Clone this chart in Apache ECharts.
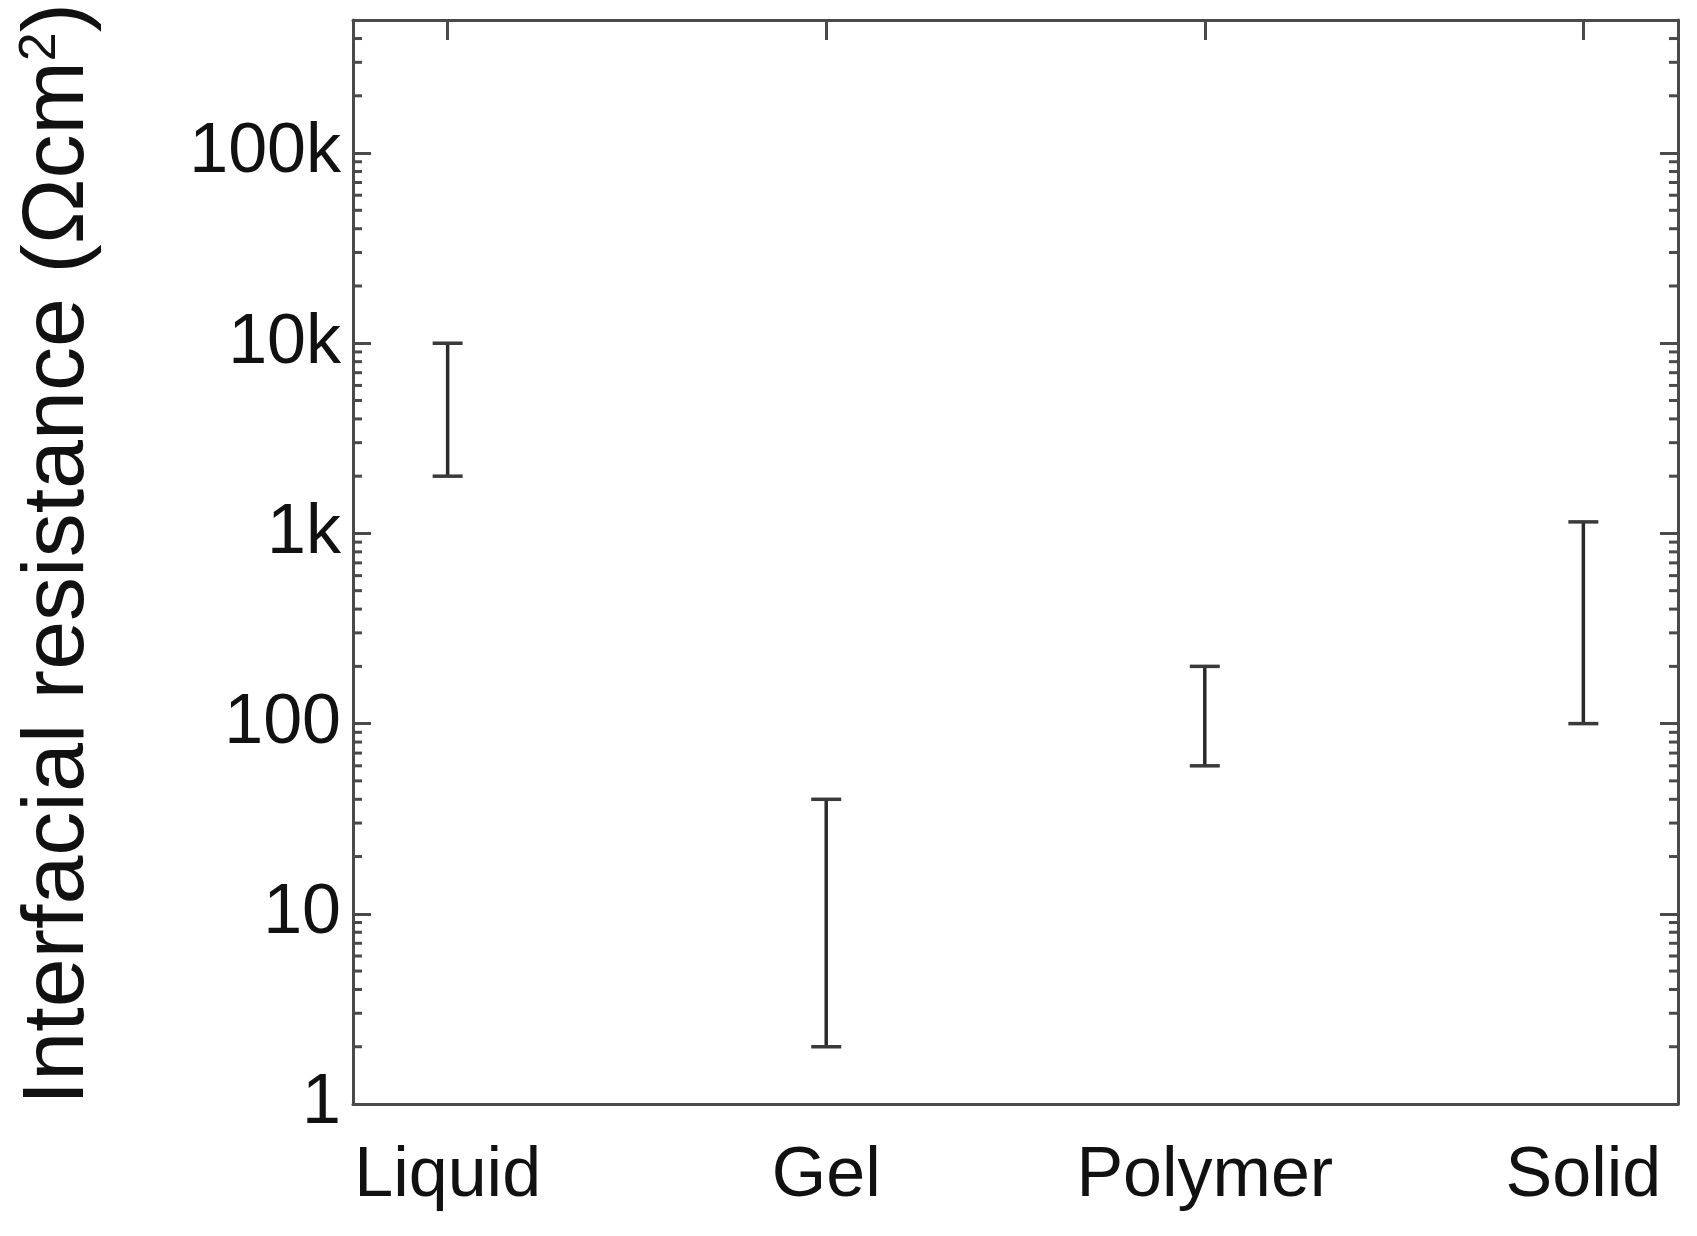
<!DOCTYPE html>
<html>
<head>
<meta charset="utf-8">
<script src="https://cdn.jsdelivr.net/npm/echarts@6/dist/echarts.min.js"></script>
<style>
html,body{margin:0;padding:0;background:#fff;}
#chart{width:1697px;height:1236px;}
</style>
</head>
<body>
<div id="chart"></div>
<script>
// ---- data ----
var categories = ['Liquid', 'Gel', 'Polymer', 'Solid'];
var lowValues  = [2000, 2, 60, 100];
var highValues = [10000, 40, 200, 1150];
var yTickValues = [1, 10, 100, 1000, 10000, 100000];
var yTickLabels = ['1', '10', '100', '1k', '10k', '100k'];
var yMinorMultipliers = [2, 3, 4, 5, 6, 7, 8, 9];
var yMin = 1, yMax = 500000;

var xPositions = categories.map(function (c, i) { return i + 1; });
var errData = categories.map(function (c, i) { return [xPositions[i], lowValues[i], highValues[i]]; });

var minorVals = [];
yTickValues.forEach(function (d) {
  yMinorMultipliers.forEach(function (m) {
    var v = d * m;
    if (v > yMin && v < yMax) minorVals.push([v]);
  });
});

var FONT = '"Liberation Sans", Arial, sans-serif';
var frameColor = '#4a4a4a';

var chart = echarts.init(document.getElementById('chart'), null, {renderer: 'canvas'});

function yLabel(v) {
  for (var i = 0; i < yTickValues.length; i++) {
    if (Math.abs(v - yTickValues[i]) / yTickValues[i] < 1e-6) return yTickLabels[i];
  }
  return '';
}

var option = {
  backgroundColor: '#fff',
  animation: false,
  grid: {left: 353, right: 19, top: 17, bottom: 132, show: false},
  xAxis: [{
    type: 'value', min: 0.75, max: 4.25, position: 'bottom',
    axisLine: {show: true, onZero: false, lineStyle: {color: frameColor, width: 3}},
    axisTick: {show: false},
    splitLine: {show: false},
    axisLabel: {
      customValues: xPositions,
      formatter: function (v) { return categories[Math.round(v) - 1] || ''; },
      fontFamily: FONT, fontSize: 70, color: '#111', margin: 38
    }
  }, {
    type: 'value', min: 0.75, max: 4.25, position: 'top',
    axisLine: {show: true, onZero: false, lineStyle: {color: frameColor, width: 3}},
    axisTick: {show: true, inside: true, length: 20, customValues: xPositions, lineStyle: {color: frameColor, width: 3}},
    splitLine: {show: false},
    axisLabel: {show: false}
  }],
  yAxis: [{
    type: 'log', logBase: 10, min: yMin, max: yMax, position: 'left',
    axisLine: {show: true, onZero: false, lineStyle: {color: frameColor, width: 3}},
    axisTick: {show: true, inside: true, length: 18, customValues: yTickValues, lineStyle: {color: frameColor, width: 3}},
    splitLine: {show: false},
    minorTick: {show: false},
    axisLabel: {
      customValues: yTickValues,
      formatter: yLabel,
      fontFamily: FONT, fontSize: 70, color: '#111', margin: 12
    },
    name: 'Interfacial resistance (Ωcm{sup|2})',
    nameLocation: 'middle', nameRotate: 90, nameGap: 250,
    nameTextStyle: {
      fontFamily: FONT, fontSize: 88, color: '#111',
      padding: [0, 0, 0, 16],
      rich: {sup: {fontFamily: FONT, fontSize: 52, color: '#111', verticalAlign: 'top', padding: [0, 0, 36, 0]}}
    }
  }, {
    type: 'log', logBase: 10, min: yMin, max: yMax, position: 'right',
    axisLine: {show: true, onZero: false, lineStyle: {color: frameColor, width: 3}},
    axisTick: {show: true, inside: true, length: 18, customValues: yTickValues, lineStyle: {color: frameColor, width: 3}},
    splitLine: {show: false},
    axisLabel: {show: false}
  }],
  series: [{
    type: 'custom',
    name: 'minorTicks',
    xAxisIndex: 0, yAxisIndex: 0,
    data: minorVals,
    silent: true,
    renderItem: function (params, api) {
      var y = api.coord([1, api.value(0)])[1];
      var cs = params.coordSys;
      var L = 9;
      return {
        type: 'group',
        children: [
          {type: 'line', shape: {x1: cs.x, y1: y, x2: cs.x + L, y2: y}, style: {stroke: frameColor, lineWidth: 3}},
          {type: 'line', shape: {x1: cs.x + cs.width - L, y1: y, x2: cs.x + cs.width, y2: y}, style: {stroke: frameColor, lineWidth: 3}}
        ]
      };
    }
  }, {
    type: 'custom',
    name: 'range',
    xAxisIndex: 0, yAxisIndex: 0,
    data: errData,
    renderItem: function (params, api) {
      var lo = api.coord([api.value(0), api.value(1)]);
      var hi = api.coord([api.value(0), api.value(2)]);
      var hw = 15;
      return {
        type: 'group',
        children: [
          {type: 'line', shape: {x1: lo[0], y1: lo[1], x2: hi[0], y2: hi[1]}, style: {stroke: '#2a2a2a', lineWidth: 3.5}},
          {type: 'line', shape: {x1: hi[0] - hw, y1: hi[1], x2: hi[0] + hw, y2: hi[1]}, style: {stroke: '#3a3a3a', lineWidth: 3.5}},
          {type: 'line', shape: {x1: lo[0] - hw, y1: lo[1], x2: lo[0] + hw, y2: lo[1]}, style: {stroke: '#3a3a3a', lineWidth: 3.5}}
        ]
      };
    }
  }]
};
chart.setOption(option);
</script>
</body>
</html>
